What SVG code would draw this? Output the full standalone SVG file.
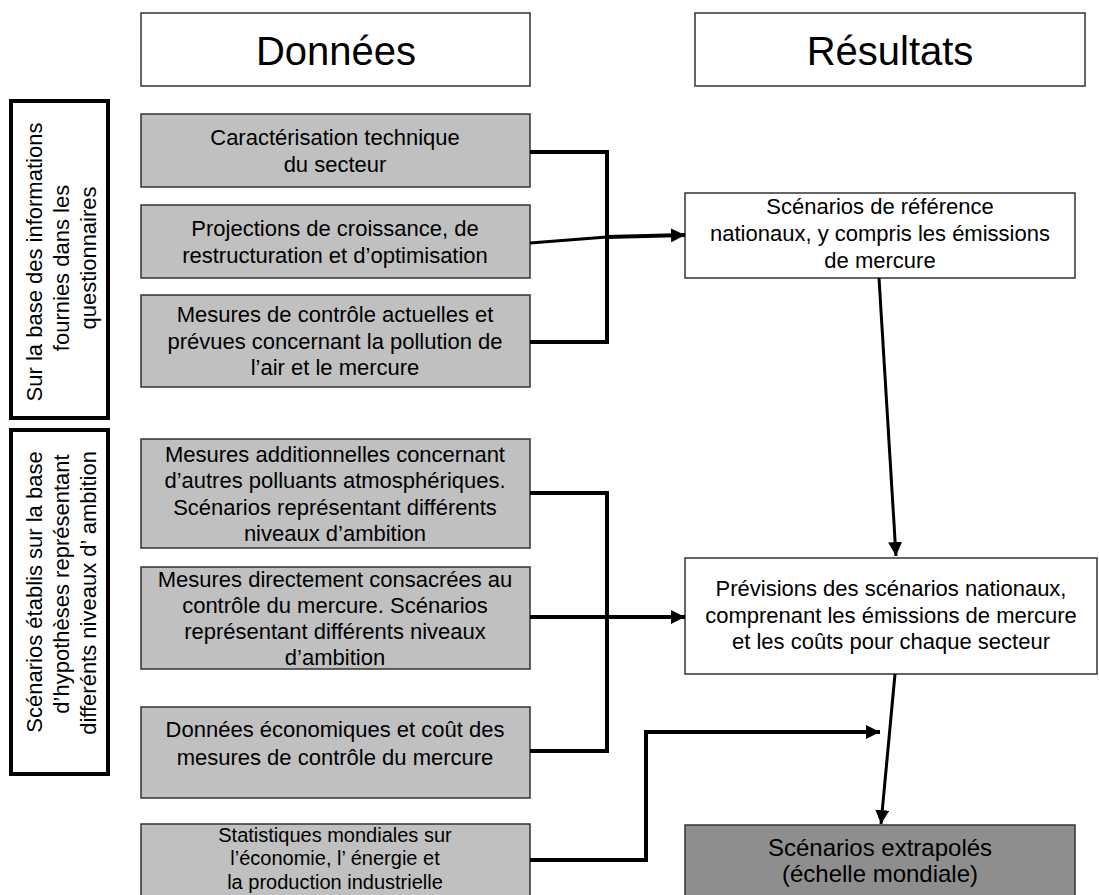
<svg xmlns="http://www.w3.org/2000/svg" width="1099" height="895" viewBox="0 0 1099 895">
<style>
text{font-family:"Liberation Sans",Arial,sans-serif;fill:#000;text-anchor:middle}
.t{font-size:22px}
.s{font-size:20px}
.h{font-size:40px}
.x{font-size:24px}
.title{fill:#fff;stroke:#333;stroke-width:1.5}
.gray{fill:#c0c0c0;stroke:#333;stroke-width:1.5}
.res{fill:#fff;stroke:#333;stroke-width:1.5}
.dark{fill:#8e8e8e;stroke:#333;stroke-width:1.5}
.side{fill:#fff;stroke:#000;stroke-width:4}
.c{fill:none;stroke:#000;stroke-width:4}
.c3{fill:none;stroke:#000;stroke-width:3}
</style>
<defs>
<marker id="ah" markerUnits="userSpaceOnUse" markerWidth="16" markerHeight="14" refX="14" refY="7" orient="auto">
<path d="M0,0 L14,7 L0,14 Z" fill="#000"/>
</marker>
</defs>

<g id="titre-donnees">
<rect class="title" x="141" y="13" width="389" height="73"/>
<text class="h" x="336" y="65">Données</text>
</g>
<g id="titre-resultats">
<rect class="title" x="695" y="13" width="390" height="73"/>
<text class="h" x="890" y="65">Résultats</text>
</g>

<g id="cote-questionnaires">
<rect class="side" x="11" y="101" width="97" height="317"/>
<text class="t" transform="translate(42,262) rotate(-90)">Sur la base des informations</text>
<text class="t" transform="translate(69,268) rotate(-90)">fournies dans les</text>
<text class="t" transform="translate(96,258) rotate(-90)">questionnaires</text>
</g>
<g id="cote-scenarios">
<rect class="side" x="11" y="430" width="97" height="344"/>
<text class="t" transform="translate(42,592) rotate(-90)">Scénarios établis sur la base</text>
<text class="t" transform="translate(69,584) rotate(-90)">d’hypothèses représentant</text>
<text class="t" transform="translate(96,593) rotate(-90)">differénts niveaux d’ ambition</text>
</g>

<g id="d1">
<rect class="gray" x="141" y="114" width="389" height="73"/>
<text class="t" x="335" y="145">Caractérisation technique</text>
<text class="t" x="335" y="172">du secteur</text>
</g>
<g id="d2">
<rect class="gray" x="141" y="205" width="389" height="73"/>
<text class="t" x="335" y="236">Projections de croissance, de</text>
<text class="t" x="335" y="263">restructuration et d’optimisation</text>
</g>
<g id="d3">
<rect class="gray" x="141" y="295" width="389" height="92"/>
<text class="t" x="335" y="322">Mesures de contrôle actuelles et</text>
<text class="t" x="335" y="349">prévues concernant la pollution de</text>
<text class="t" x="335" y="375">l’air et le mercure</text>
</g>
<g id="d4">
<rect class="gray" x="141" y="439" width="389" height="109"/>
<text class="t" x="335" y="462">Mesures additionnelles concernant</text>
<text class="t" x="335" y="488">d’autres polluants atmosphériques.</text>
<text class="t" x="335" y="515">Scénarios représentant différents</text>
<text class="t" x="335" y="541">niveaux d’ambition</text>
</g>
<g id="d5">
<rect class="gray" x="141" y="567" width="389" height="102"/>
<text class="t" x="335" y="587">Mesures directement consacrées au</text>
<text class="t" x="335" y="613">contrôle du mercure. Scénarios</text>
<text class="t" x="335" y="639">représentant différents niveaux</text>
<text class="t" x="335" y="665">d’ambition</text>
</g>
<g id="d6">
<rect class="gray" x="141" y="707" width="389" height="91"/>
<text class="t" x="335" y="737">Données économiques et coût des</text>
<text class="t" x="335" y="765">mesures de contrôle du mercure</text>
</g>
<g id="d7">
<rect class="gray" x="141" y="824" width="389" height="80"/>
<text class="s" x="335" y="842">Statistiques mondiales sur</text>
<text class="s" x="335" y="865">l’économie, l’ énergie et</text>
<text class="s" x="335" y="889">la production industrielle</text>
</g>

<g id="r1">
<rect class="res" x="685" y="193" width="390" height="85"/>
<text class="t" x="880" y="214">Scénarios de référence</text>
<text class="t" x="880" y="241">nationaux, y compris les émissions</text>
<text class="t" x="880" y="268">de mercure</text>
</g>
<g id="r2">
<rect class="res" x="685" y="558" width="412" height="116"/>
<text class="t" x="891" y="596">Prévisions des scénarios nationaux,</text>
<text class="t" x="891" y="623">comprenant les émissions de mercure</text>
<text class="t" x="891" y="649">et les coûts pour chaque secteur</text>
</g>
<g id="r3">
<rect class="dark" x="685" y="825" width="390" height="80"/>
<text class="x" x="880" y="856">Scénarios extrapolés</text>
<text class="x" x="880" y="882">(échelle mondiale)</text>
</g>

<g id="connecteurs">
<path class="c" d="M530,152 H607 V342 H530"/>
<path class="c3" d="M530,243 L607,237"/>
<path class="c" d="M607,237 L685,235" marker-end="url(#ah)"/>
<path class="c3" d="M879,278 L896,556" marker-end="url(#ah)"/>
<path class="c" d="M530,493 H607 V751 H530"/>
<path class="c" d="M530,617 H685" marker-end="url(#ah)"/>
<path class="c3" d="M895,674 L881,824" marker-end="url(#ah)"/>
<path class="c" d="M530,860 H646 V732 H880" marker-end="url(#ah)"/>
</g>
</svg>
